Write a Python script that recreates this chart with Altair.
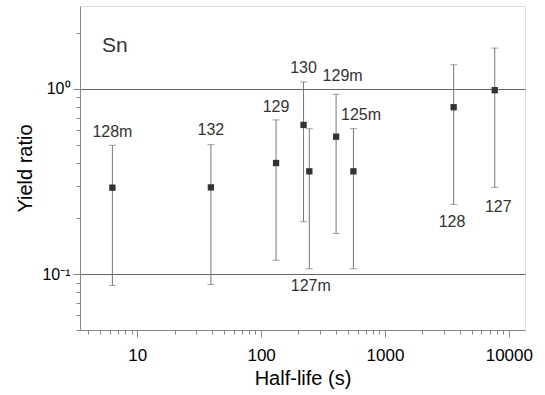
import altair as alt
import pandas as pd

# ---- data ----
isotopes = ["128m", "132", "129", "130", "127m", "129m", "125m", "128", "127"]
half_life = [6.3, 39.3, 132, 220, 245, 403, 556, 3583, 7690]
ratio = [0.293, 0.294, 0.398, 0.639, 0.359, 0.552, 0.359, 0.796, 0.984]
err_low = [0.087, 0.088, 0.119, 0.192, 0.107, 0.166, 0.107, 0.238, 0.294]
err_high = [0.496, 0.50, 0.68, 1.09, 0.61, 0.936, 0.61, 1.35, 1.66]
label_x = [6.3, 39.3, 132, 220, 252, 455, 641, 3474, 8212]
label_y = [0.585, 0.60, 0.80, 1.30, 0.0861, 1.175, 0.723, 0.191, 0.2316]

panel_name = ["Sn"]
panel_x = [5.2]
panel_y = [1.71]

x_ticks = [4, 5, 6, 7, 8, 9, 10, 20, 30, 40, 50, 60, 70, 80, 90, 100,
           200, 300, 400, 500, 600, 700, 800, 900, 1000,
           2000, 3000, 4000, 5000, 6000, 7000, 8000, 9000, 10000]
y_ticks = [0.05, 0.06, 0.07, 0.08, 0.09, 0.1, 0.2, 0.3, 0.4, 0.5, 0.6,
           0.7, 0.8, 0.9, 1, 2]

df = pd.DataFrame({
    "iso": isotopes, "t": half_life, "r": ratio,
    "lo": err_low, "hi": err_high, "lx": label_x, "ly": label_y,
})
df_panel = pd.DataFrame({"name": panel_name, "x": panel_x, "y": panel_y})

FONT = "Liberation Sans"
POW10 = "abs(log(datum.value)/LN10 - round(log(datum.value)/LN10)) < 0.001"

xscale = alt.Scale(type="log", domain=[3.45, 13500], nice=False)
yscale = alt.Scale(type="log", domain=[0.05, 2.8], nice=False)

xaxis = alt.Axis(
    title="Half-life (s)", values=x_ticks, grid=False,
    labelExpr=f"({POW10}) ? format(datum.value, 'd') : ''",
    tickSize={"condition": {"test": POW10, "value": 7}, "value": 4},
    labelFontSize=17, titleFontSize=20, titleFontWeight="normal",
    labelPadding=10, titlePadding=5, labelFlush=False, labelOverlap=False,
)
yaxis = alt.Axis(
    title="Yield ratio", values=y_ticks,
    labelExpr="abs(datum.value - 1) < 1e-6 ? '10⁰' : (abs(datum.value - 0.1) < 1e-6 ? '10⁻¹' : '')",
    tickSize={"condition": {"test": POW10, "value": 7}, "value": 4},
    grid=True,
    gridOpacity={"condition": {"test": POW10, "value": 1}, "value": 0},
    gridColor="#666", gridWidth=1,
    labelFontSize=16, titleFontSize=20, titleFontWeight="normal",
    labelPadding=3, titlePadding=6, labelOverlap=False, labelFlush=False,
)

base = alt.Chart(df)

bars = base.mark_rule(color="#777", strokeWidth=1).encode(
    x=alt.X("t:Q", scale=xscale, axis=xaxis),
    y=alt.Y("lo:Q", scale=yscale, axis=yaxis),
    y2="hi:Q",
)
cap_lo = base.mark_tick(orient="horizontal", size=7, thickness=1, color="#777").encode(
    x=alt.X("t:Q", scale=xscale), y=alt.Y("lo:Q", scale=yscale))
cap_hi = base.mark_tick(orient="horizontal", size=7, thickness=1, color="#777").encode(
    x=alt.X("t:Q", scale=xscale), y=alt.Y("hi:Q", scale=yscale))
pts = base.mark_square(size=40, color="#333", opacity=1).encode(
    x=alt.X("t:Q", scale=xscale), y=alt.Y("r:Q", scale=yscale))
labels = base.mark_text(font=FONT, fontSize=16, color="#333",
                        align="center", baseline="middle").encode(
    x=alt.X("lx:Q", scale=xscale), y=alt.Y("ly:Q", scale=yscale), text="iso:N")
panel = alt.Chart(df_panel).mark_text(font=FONT, fontSize=21, color="#333",
                                      align="left", baseline="middle").encode(
    x=alt.X("x:Q", scale=xscale), y=alt.Y("y:Q", scale=yscale), text="name:N")

chart = alt.layer(bars, cap_lo, cap_hi, pts, labels, panel).properties(
    width=445, height=324,
    autosize=alt.AutoSizeParams(type="none"),
    padding={"left": 80, "top": 6, "right": 20, "bottom": 65},
).configure_view(
    stroke="#555", strokeWidth=1.2
).configure_axis(
    domainColor="#444", tickColor="#444", labelColor="#333", titleColor="#333",
    labelFont=FONT, titleFont=FONT,
).configure(background="white")

chart.save("out.html", embed_options={"renderer": "svg", "actions": False})
